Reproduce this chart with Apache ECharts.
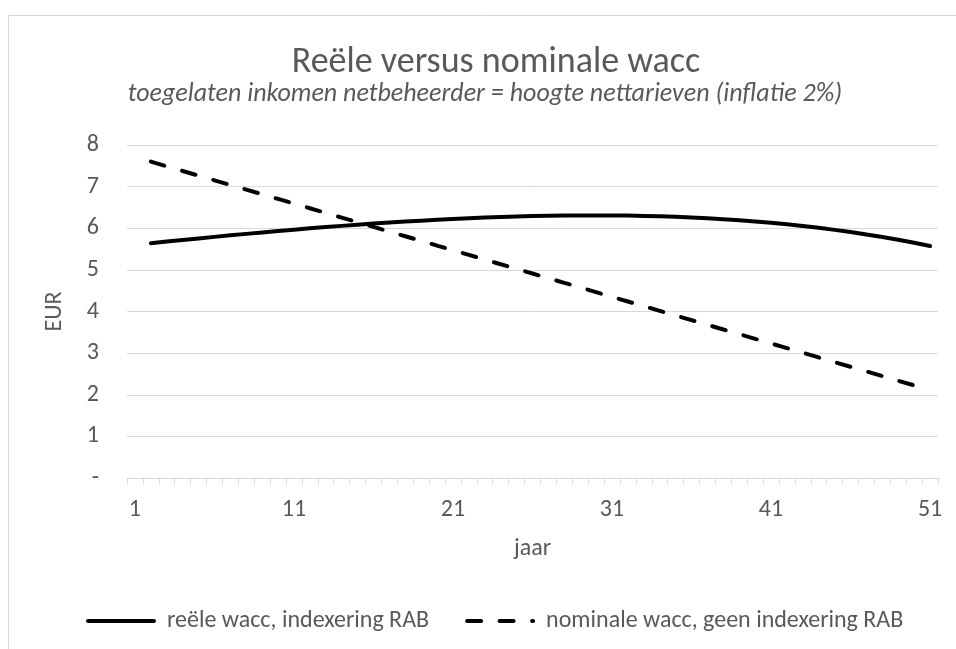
<!DOCTYPE html>
<html>
<head>
<meta charset="utf-8">
<script src="https://cdn.jsdelivr.net/npm/echarts@6/dist/echarts.min.js"></script>
<style>
html,body{margin:0;padding:0;background:#fff;}
#chart{width:956px;height:649px;}
</style>
</head>
<body>
<div id="chart"></div>
<script>
// Categories (years) shown on the x axis
const years = ['1','2','3','4','5','6','7','8','9','10','11','12','13','14','15','16','17','18','19','20','21','22','23','24','25','26','27','28','29','30','31','32','33','34','35','36','37','38','39','40','41','42','43','44','45','46','47','48','49','50','51'];

// reële wacc, indexering RAB (first category empty)
const realWacc = [null,
  5.640, 5.679, 5.718, 5.756, 5.793, 5.830, 5.865, 5.900, 5.933, 5.966,
  5.998, 6.028, 6.057, 6.085, 6.112, 6.137, 6.161, 6.183, 6.203, 6.223,
  6.241, 6.256, 6.270, 6.282, 6.292, 6.300, 6.305, 6.309, 6.309, 6.308,
  6.304, 6.297, 6.287, 6.274, 6.259, 6.240, 6.218, 6.192, 6.163, 6.131,
  6.094, 6.054, 6.010, 5.961, 5.908, 5.851, 5.789, 5.722, 5.650, 5.573];

// nominale wacc, geen indexering RAB (first category empty)
const nominalWacc = [null,
  7.600, 7.488, 7.376, 7.264, 7.152, 7.040, 6.928, 6.816, 6.704, 6.592,
  6.480, 6.368, 6.256, 6.144, 6.032, 5.920, 5.808, 5.696, 5.584, 5.472,
  5.360, 5.248, 5.136, 5.024, 4.912, 4.800, 4.688, 4.576, 4.464, 4.352,
  4.240, 4.128, 4.016, 3.904, 3.792, 3.680, 3.568, 3.456, 3.344, 3.232,
  3.120, 3.008, 2.896, 2.784, 2.672, 2.560, 2.448, 2.336, 2.224, 2.112];

const seriesNames = ['reële wacc, indexering RAB', 'nominale wacc, geen indexering RAB'];
const titleText = 'Reële versus nominale wacc';
const subtitleText = 'toegelaten inkomen netbeheerder = hoogte nettarieven (inflatie 2%)';
const yAxisName = 'EUR';
const xAxisName = 'jaar';

const FONT = 'Carlito, "Open Sans", sans-serif';
const TXT = '#595959';
const GRID = '#d9d9d9';

const chart = echarts.init(document.getElementById('chart'), null, {renderer: 'canvas'});
chart.setOption({
  animation: false,
  backgroundColor: '#ffffff',
  textStyle: {fontFamily: FONT},
  graphic: [{
    type: 'rect', left: 6, top: 13, silent: true,
    shape: {width: 1000, height: 700},
    style: {fill: 'none', stroke: GRID, lineWidth: 1}
  }],
  title: [{
    text: titleText, left: 491, top: 40, textAlign: 'center',
    textStyle: {fontFamily: FONT, fontSize: 36, fontWeight: 'normal', color: TXT}
  }, {
    text: subtitleText, left: 480, top: 76, textAlign: 'center',
    textStyle: {fontFamily: FONT, fontSize: 26, fontStyle: 'italic', fontWeight: 'normal', color: TXT}
  }],
  legend: {
    bottom: 11, left: 81,
    itemWidth: 66, itemHeight: 14, itemGap: 36,
    itemStyle: {opacity: 0},
    lineStyle: {width: 4, cap: 'round'},
    textStyle: {fontFamily: FONT, fontSize: 24, color: TXT, padding: [0, 0, 0, 8]},
    data: seriesNames
  },
  grid: {left: 127, right: 18, top: 145, bottom: 171, containLabel: false},
  xAxis: {
    type: 'category', data: years, boundaryGap: true,
    name: xAxisName, nameLocation: 'middle', nameGap: 59, nameMoveOverlap: false,
    nameTextStyle: {fontFamily: FONT, fontSize: 24, color: TXT},
    axisLine: {lineStyle: {color: GRID, width: 1}},
    axisTick: {show: true, interval: 0, length: 6, lineStyle: {color: GRID}},
    axisLabel: {interval: 9, margin: 20, fontFamily: FONT, fontSize: 24, color: TXT},
    splitLine: {show: false}
  },
  yAxis: {
    type: 'value', min: 0, max: 8, interval: 1,
    name: yAxisName, nameLocation: 'middle', nameGap: 60, nameMoveOverlap: false,
    nameTextStyle: {fontFamily: FONT, fontSize: 24, color: TXT},
    axisLine: {show: false}, axisTick: {show: false},
    axisLabel: {margin: 28, fontFamily: FONT, fontSize: 24, color: TXT,
      formatter: v => v === 0 ? '-' : String(v)},
    splitLine: {lineStyle: {color: GRID, width: 1}}
  },
  series: [{
    name: seriesNames[0], type: 'line', data: realWacc,
    smooth: false, showSymbol: false, symbol: 'none',
    lineStyle: {color: '#000', width: 4, cap: 'round', join: 'round'},
    itemStyle: {color: '#000'}
  }, {
    name: seriesNames[1], type: 'line', data: nominalWacc,
    smooth: false, showSymbol: false, symbol: 'none',
    lineStyle: {color: '#000', width: 4, type: [14, 18.5], cap: 'round'},
    itemStyle: {color: '#000'}
  }]
});
</script>
</body>
</html>
